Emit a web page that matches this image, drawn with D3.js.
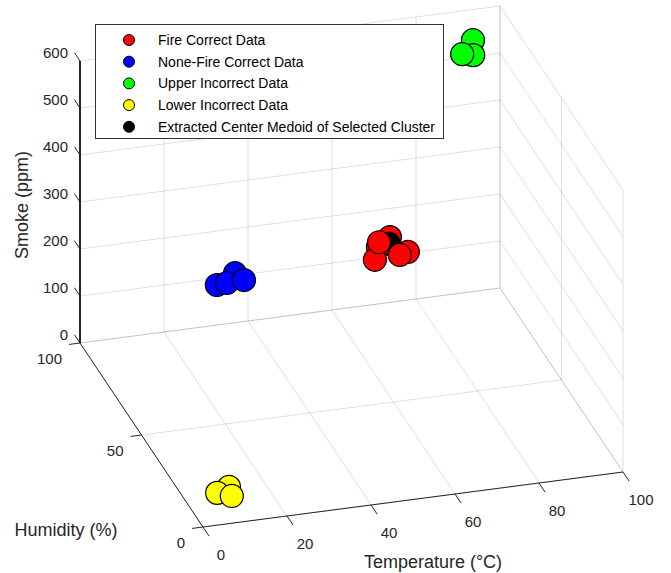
<!DOCTYPE html>
<html>
<head>
<meta charset="utf-8">
<script src="https://cdn.jsdelivr.net/npm/d3@7"></script>
<style>
  html, body { margin: 0; padding: 0; background: #fff; }
  svg { display: block; font-family: Arial, "Liberation Sans", Helvetica, sans-serif; }
</style>
</head>
<body>
<svg id="chart" width="671" height="573"></svg>
<script>
// ---------- data (Temperature °C, Humidity %, Smoke ppm) ----------
const fireTemp   = [53.3, 46.3, 47.5, 52.3, 46.2, 49.2];
const fireHum    = [30, 15, 20, 12, 18, 8];
const fireSmoke  = [437, 493, 462, 477, 444, 490];

const nonFireTemp  = [29.3, 23.8, 29.1, 25.6];
const nonFireHum   = [74, 70, 66, 68];
const nonFireSmoke = [216, 213, 233, 223];

const upperTemp  = [92.1, 90.1, 86.6];
const upperHum   = [95, 88, 85];
const upperSmoke = [556, 554, 572];

const lowerTemp  = [9.7, 6.3, 9.2];
const lowerHum   = [12, 10, 8];
const lowerSmoke = [27, 26, 24];

const medoidTemp = [50.7];
const medoidHum = [22];
const medoidSmoke = [457];

const tempTicks = [0, 20, 40, 60, 80, 100];
const humTicks = [0, 50, 100];
const smokeTicks = [0, 100, 200, 300, 400, 500, 600];

const seriesNames = ["Fire Correct Data", "None-Fire Correct Data", "Upper Incorrect Data",
                     "Lower Incorrect Data", "Extracted Center Medoid of Selected Cluster"];
const seriesColors = ["#ff0000", "#0000ff", "#00ff00", "#ffff00", "#000000"];

// ---------- projection ----------
const tS = d3.scaleLinear().domain([0, 100]).range([0, 1]);
const hS = d3.scaleLinear().domain([0, 100]).range([0, 1]);
const zS = d3.scaleLinear().domain([0, 600]).range([0, 1]);
const O = [203, 527];
const vT = [420, -55];
const vH = [-123, -184];
const vZ = [0, -282];
function proj(t, h, z) {
  const a = tS(t), b = hS(h), c = zS(z);
  return [O[0] + a * vT[0] + b * vH[0] + c * vZ[0],
          O[1] + a * vT[1] + b * vH[1] + c * vZ[1]];
}
// distance from viewer (larger = further back), orthographic view direction
function depth(t, h, z) { return 0.35 * tS(t) + 1.18 * hS(h) - 0.84 * zS(z); }

const svg = d3.select("#chart");
const textColor = "#262626";
const gridG = svg.append("g").attr("stroke", "#262626").attr("stroke-opacity", 0.15).attr("stroke-width", 1).attr("fill", "none");
function line(g, p1, p2) {
  g.append("line").attr("x1", p1[0]).attr("y1", p1[1]).attr("x2", p2[0]).attr("y2", p2[1]);
}

// back wall (H = 100)
smokeTicks.forEach(z => line(gridG, proj(0, 100, z), proj(100, 100, z)));
tempTicks.forEach(t => line(gridG, proj(t, 100, 0), proj(t, 100, 600)));
// right wall (T = 100)
smokeTicks.forEach(z => line(gridG, proj(100, 0, z), proj(100, 100, z)));
humTicks.forEach(h => line(gridG, proj(100, h, 0), proj(100, h, 600)));
// floor (Z = 0)
tempTicks.forEach(t => line(gridG, proj(t, 0, 0), proj(t, 100, 0)));
humTicks.forEach(h => line(gridG, proj(0, h, 0), proj(100, h, 0)));

// ---------- axes ----------
const axG = svg.append("g").attr("stroke", textColor).attr("fill", "none");
line(axG, proj(0, 0, 0), proj(100, 0, 0));
line(axG, proj(0, 0, 0), proj(0, 100, 0));
axG.append("line").attr("x1", proj(0,100,0)[0]).attr("y1", proj(0,100,0)[1])
  .attr("x2", proj(0,100,600)[0]).attr("y2", proj(0,100,600)[1]).attr("stroke-width", 2);

function unit(v) { const l = Math.hypot(v[0], v[1]); return [v[0] / l, v[1] / l]; }
const uT = unit(vT), uH = unit(vH);

const lblG = svg.append("g").attr("fill", textColor).attr("font-size", 15);
tempTicks.forEach(t => {
  const p = proj(t, 0, 0);
  line(axG, p, [p[0] - uH[0] * 11, p[1] - uH[1] * 11]);
  lblG.append("text").attr("x", p[0] + 18).attr("y", p[1] + 27)
    .attr("text-anchor", "middle").attr("dominant-baseline", "central").text(t);
});
humTicks.forEach(h => {
  const p = proj(0, h, 0);
  line(axG, p, [p[0] - uT[0] * 11, p[1] - uT[1] * 11]);
  lblG.append("text").attr("x", p[0] - 18).attr("y", p[1] + 15)
    .attr("text-anchor", "end").attr("dominant-baseline", "central").text(h);
});
smokeTicks.forEach(z => {
  const p = proj(0, 100, z);
  line(axG, p, [p[0] + uH[0] * 10, p[1] + uH[1] * 10]);
  lblG.append("text").attr("x", p[0] - 12).attr("y", p[1] - 9)
    .attr("text-anchor", "end").attr("dominant-baseline", "central").text(z);
});

const ttl = svg.append("g").attr("fill", textColor).attr("font-size", 18);
ttl.append("text").attr("x", 433).attr("y", 562).attr("text-anchor", "middle")
  .attr("dominant-baseline", "central").text("Temperature (°C)");
ttl.append("text").attr("x", 66).attr("y", 530).attr("text-anchor", "middle")
  .attr("dominant-baseline", "central").text("Humidity (%)");
ttl.append("text").attr("transform", "translate(22,205) rotate(-90)").attr("text-anchor", "middle")
  .attr("dominant-baseline", "central").text("Smoke (ppm)");

// ---------- points (depth sorted, far to near) ----------
const series = [
  { t: fireTemp, h: fireHum, z: fireSmoke, c: seriesColors[0] },
  { t: nonFireTemp, h: nonFireHum, z: nonFireSmoke, c: seriesColors[1] },
  { t: upperTemp, h: upperHum, z: upperSmoke, c: seriesColors[2] },
  { t: lowerTemp, h: lowerHum, z: lowerSmoke, c: seriesColors[3] },
  { t: medoidTemp, h: medoidHum, z: medoidSmoke, c: seriesColors[4] }
];
const allPts = [];
series.forEach(s => s.t.forEach((t, i) => {
  const p = proj(t, s.h[i], s.z[i]);
  allPts.push({ x: p[0], y: p[1], d: depth(t, s.h[i], s.z[i]), c: s.c });
}));
allPts.sort((a, b) => b.d - a.d);
svg.append("g").selectAll("circle").data(allPts).join("circle")
  .attr("cx", d => d.x).attr("cy", d => d.y).attr("r", 11.5)
  .attr("fill", d => d.c).attr("stroke", "#000").attr("stroke-width", 1.2);

// ---------- legend ----------
const lg = svg.append("g");
lg.append("rect").attr("x", 95.5).attr("y", 24.5).attr("width", 348).attr("height", 114)
  .attr("fill", "#fff").attr("stroke", "#333").attr("stroke-width", 1);
seriesNames.forEach((n, i) => {
  const y = 40 + i * 21.7;
  lg.append("circle").attr("cx", 129).attr("cy", y).attr("r", 5.5)
    .attr("fill", seriesColors[i]).attr("stroke", "#000").attr("stroke-width", 1);
  lg.append("text").attr("x", 158).attr("y", y).attr("dominant-baseline", "central")
    .attr("font-size", 14).attr("fill", "#000").text(n);
});
</script>
</body>
</html>
